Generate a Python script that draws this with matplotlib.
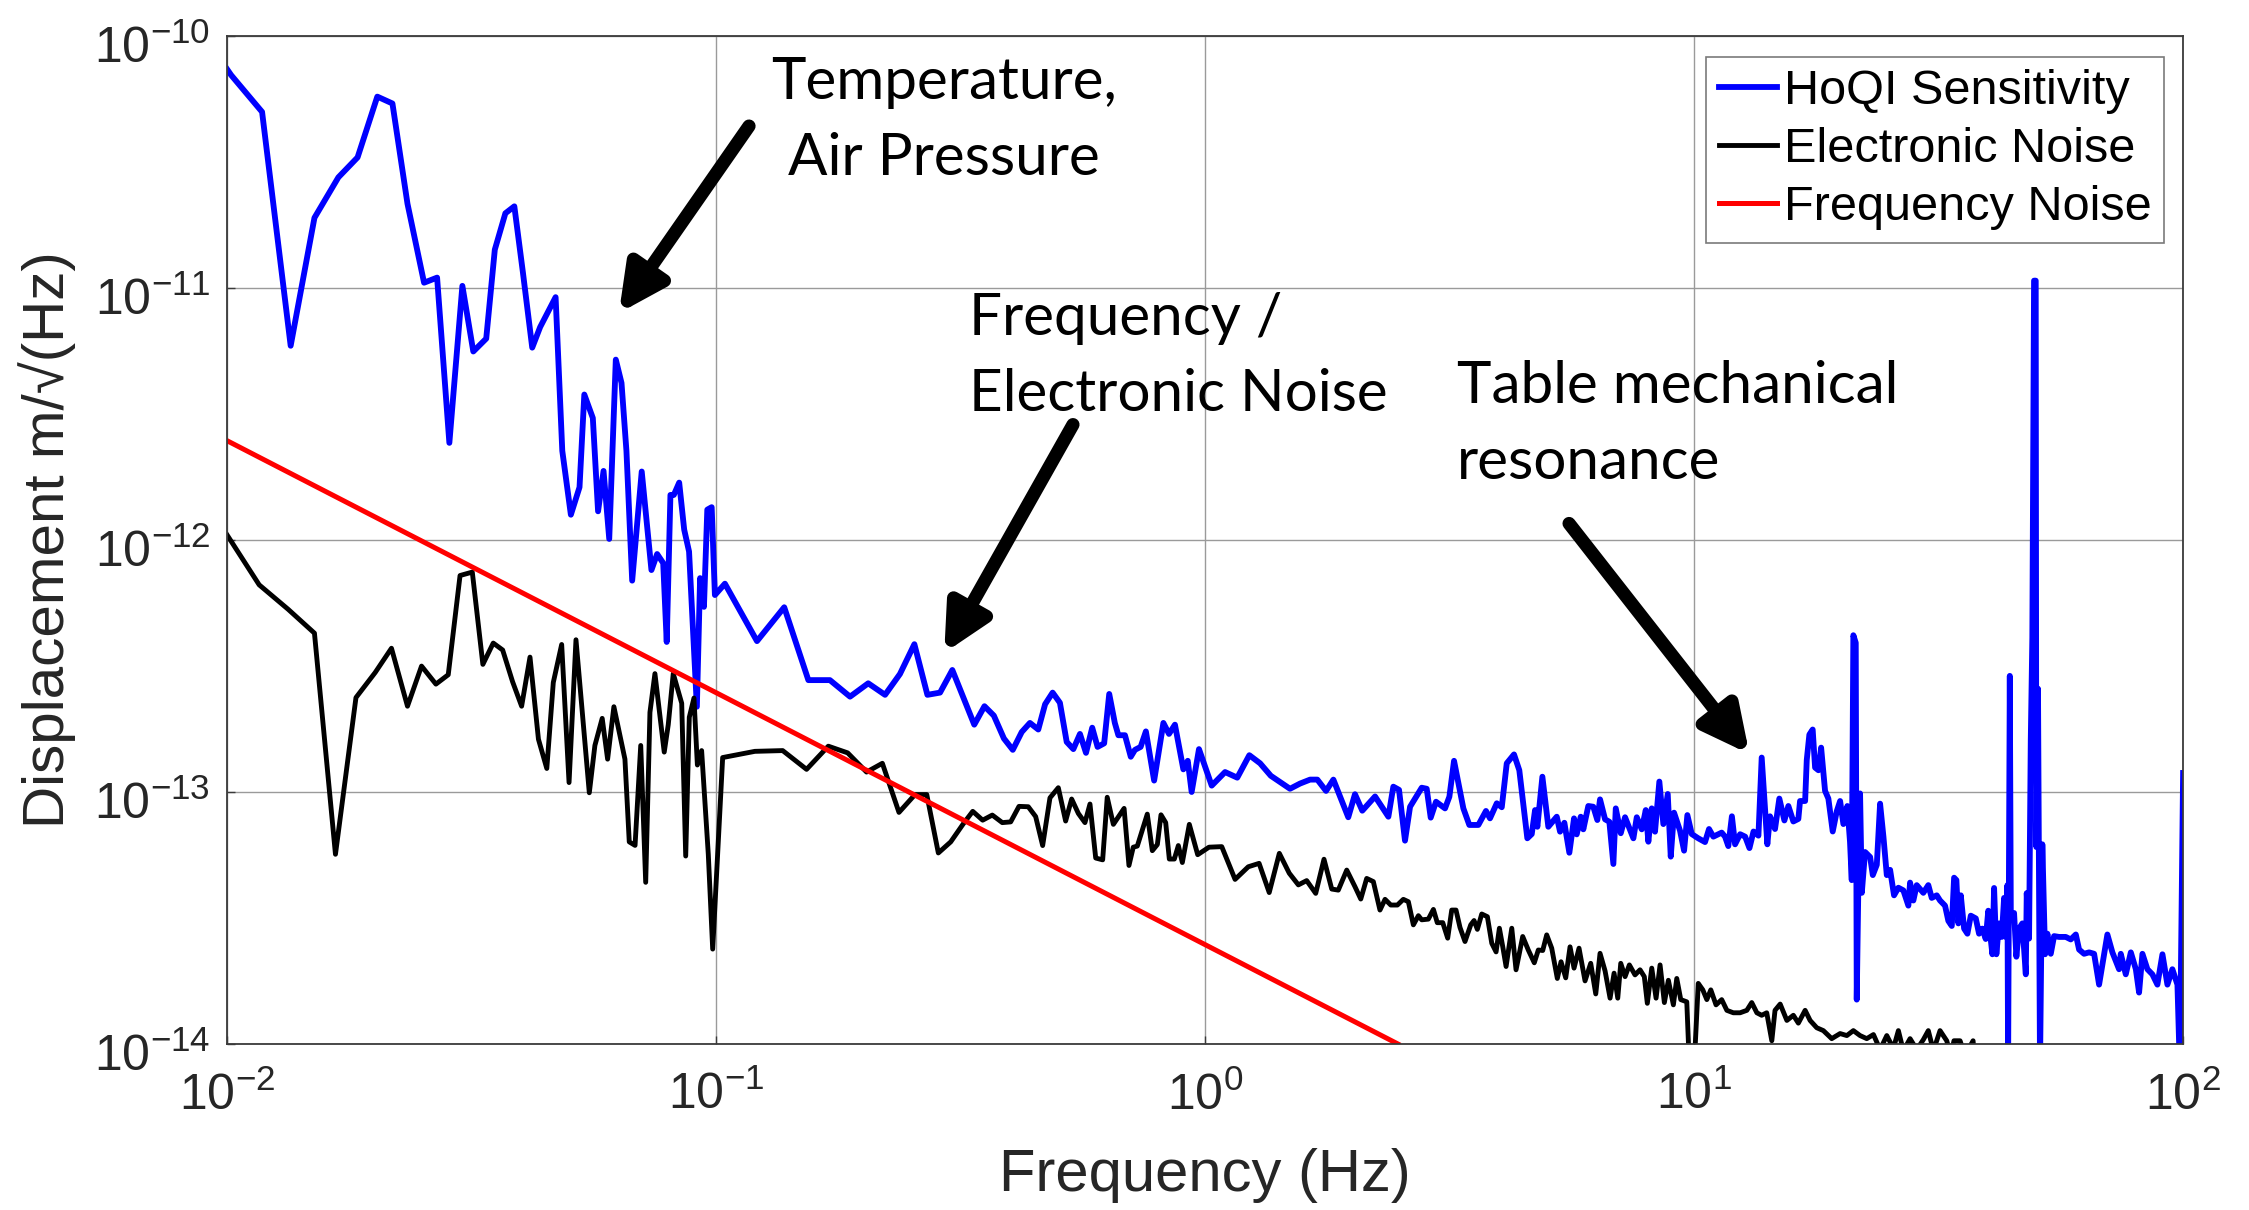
import matplotlib
matplotlib.use("Agg")
import matplotlib.pyplot as plt
import matplotlib.transforms as mtransforms
from matplotlib.ticker import FixedLocator, NullLocator, LogFormatterSciNotation

plt.rcParams['font.family'] = ['Liberation Sans', 'DejaVu Sans']
plt.rcParams['axes.unicode_minus'] = False
plt.rcParams['mathtext.fontset'] = 'custom'
plt.rcParams['mathtext.rm'] = 'Liberation Sans'
plt.rcParams['mathtext.it'] = 'Liberation Sans:italic'
plt.rcParams['mathtext.bf'] = 'Liberation Sans:bold'

# ---------------- data ----------------
blue_freq = [
    0.0100, 0.0102, 0.0118, 0.0135, 0.0151, 0.0169, 0.0185, 0.0203, 0.0218, 0.0234,
    0.0253, 0.0269, 0.0285, 0.0303, 0.0319, 0.0339, 0.0353, 0.0371, 0.0387, 0.0403,
    0.0421, 0.0437, 0.0470, 0.0485, 0.0505, 0.0526, 0.0538, 0.0560, 0.0574, 0.0589,
    0.0605, 0.0624, 0.0641, 0.0656, 0.0674, 0.0705, 0.0738, 0.0758, 0.0780, 0.0793,
    0.0807, 0.0820, 0.0841, 0.0861, 0.0881, 0.0914, 0.0928, 0.0945, 0.0960, 0.0980,
    0.0995,
    0.1043, 0.1213, 0.1379, 0.1545, 0.171, 0.188, 0.2048, 0.2217, 0.2378, 0.2545,
    0.2706, 0.2872, 0.3043, 0.3374, 0.354, 0.370, 0.388, 0.4045, 0.4219, 0.4385,
    0.4561, 0.471, 0.488, 0.505, 0.5214, 0.538, 0.555, 0.571, 0.588, 0.603,
    0.622, 0.637, 0.654, 0.665, 0.686, 0.705, 0.719, 0.7385, 0.757, 0.787,
    0.822, 0.844, 0.868, 0.903, 0.922, 0.939, 0.972,
    1.032, 1.099, 1.164, 1.232, 1.296, 1.363, 1.492, 1.564, 1.640, 1.697,
    1.768, 1.830, 1.963, 2.026, 2.097, 2.227, 2.371, 2.427, 2.493, 2.564,
    2.626, 2.774, 2.840, 2.894, 2.967, 3.096, 3.160, 3.230, 3.375, 3.471,
    3.622, 3.754, 3.826, 3.950, 4.044, 4.140, 4.284, 4.392, 4.561, 4.657,
    4.730, 4.782, 4.896, 5.035, 5.239, 5.321, 5.430, 5.559, 5.683, 5.755,
    5.865, 5.937, 6.078, 6.223, 6.342, 6.423, 6.577, 6.711, 6.839, 6.917,
    7.081, 7.226, 7.515, 7.636, 7.817, 7.966, 8.064, 8.194, 8.321, 8.492,
    8.654, 8.835, 8.960, 9.100, 9.361, 9.541, 9.690, 9.892,
    10.20, 10.53, 10.73, 10.95, 11.39, 11.57, 11.75, 11.95, 12.13, 12.42,
    12.72, 12.98, 13.23, 13.54, 13.75, 14.12, 14.30, 14.64, 14.94, 15.30,
    15.59, 15.96, 16.34, 16.47, 16.87, 17.00, 17.21, 17.48, 17.68, 17.96,
    18.19, 18.53, 18.82, 19.21, 19.58, 19.89, 20.20, 20.58, 20.84, 21.01,
    21.17, 21.41, 21.51, 21.68, 21.85, 22.03, 22.37, 22.91, 23.20, 23.64,
    24.01, 24.39, 24.78, 25.17, 25.64, 26.17, 26.79, 27.43, 27.65, 28.08,
    28.53, 29.43, 30.13, 30.62, 31.35, 31.84, 32.60, 33.11,
    33.65, 34.02, 34.39, 34.71, 35.11, 35.66, 36.22, 36.80, 37.68, 38.26,
    38.86, 39.48, 39.96, 40.42, 40.74, 41.07, 41.51, 42.04, 42.58, 43.05,
    43.40, 43.73, 43.87, 44.22, 44.43, 45.12, 45.61, 46.19, 46.91, 47.68,
    47.89, 48.42, 48.81, 49.17, 49.57, 49.96, 50.10, 50.50, 50.98, 51.54,
    52.21, 52.78, 53.63, 54.47, 55.76, 57.55, 58.92, 60.34, 61.28, 62.73,
    64.23, 65.77, 67.33, 68.93, 70.01, 71.68, 73.97, 74.57, 76.34, 78.18,
    80.05, 81.28, 82.57, 84.53, 86.53, 88.60, 90.73, 92.88, 95.08, 97.37,
    98.47, 100.0,
]
blue_disp = [
    7.4e-11, 7.0e-11, 5.0e-11, 5.9e-12, 1.9e-11, 2.75e-11, 3.3e-11, 5.75e-11, 5.4e-11, 2.16e-11,
    1.05e-11, 1.10e-11, 2.43e-12, 1.02e-11, 5.6e-12, 6.3e-12, 1.42e-11, 1.98e-11, 2.11e-11, 1.15e-11,
    5.8e-12, 7.0e-12, 9.2e-12, 2.26e-12, 1.26e-12, 1.62e-12, 3.78e-12, 3.05e-12, 1.30e-12, 1.88e-12,
    1.01e-12, 5.2e-12, 4.2e-12, 2.26e-12, 6.9e-13, 1.87e-12, 7.6e-13, 8.8e-13, 8.1e-13, 3.94e-13,
    1.51e-12, 1.51e-12, 1.69e-12, 1.10e-12, 9.0e-13, 2.18e-13, 7.06e-13, 5.43e-13, 1.32e-12, 1.35e-12,
    6.05e-13,
    6.71e-13, 3.97e-13, 5.41e-13, 2.78e-13, 2.78e-13, 2.39e-13, 2.70e-13, 2.43e-13, 2.94e-13, 3.86e-13,
    2.43e-13, 2.48e-13, 3.05e-13, 1.85e-13, 2.19e-13, 2.01e-13, 1.63e-13, 1.47e-13, 1.73e-13, 1.88e-13,
    1.77e-13, 2.23e-13, 2.48e-13, 2.26e-13, 1.58e-13, 1.48e-13, 1.70e-13, 1.43e-13, 1.80e-13, 1.51e-13,
    1.56e-13, 2.45e-13, 1.88e-13, 1.68e-13, 1.68e-13, 1.38e-13, 1.47e-13, 1.51e-13, 1.74e-13, 1.11e-13,
    1.88e-13, 1.70e-13, 1.85e-13, 1.23e-13, 1.33e-13, 1.00e-13, 1.48e-13,
    1.06e-13, 1.20e-13, 1.14e-13, 1.40e-13, 1.30e-13, 1.16e-13, 1.03e-13, 1.08e-13, 1.12e-13, 1.12e-13,
    1.01e-13, 1.12e-13, 7.94e-14, 9.8e-14, 8.43e-14, 9.6e-14, 7.98e-14, 1.05e-13, 1.02e-13, 6.41e-14,
    8.74e-14, 1.04e-13, 1.03e-13, 7.91e-14, 9.15e-14, 8.61e-14, 9.58e-14, 1.33e-13, 8.61e-14, 7.4e-14,
    7.4e-14, 8.41e-14, 7.86e-14, 9.02e-14, 8.7e-14, 1.30e-13, 1.41e-13, 1.22e-13, 6.55e-14, 6.81e-14,
    8.48e-14, 7.28e-14, 1.15e-13, 7.28e-14, 7.98e-14, 6.96e-14, 7.55e-14, 5.74e-14, 7.86e-14, 6.79e-14,
    7.98e-14, 7.11e-14, 8.80e-14, 8.74e-14, 7.74e-14, 9.35e-14, 7.79e-14, 7.62e-14, 5.18e-14, 8.61e-14,
    6.86e-14, 7.94e-14, 6.55e-14, 7.94e-14, 7.11e-14, 8.48e-14, 6.35e-14, 8.61e-14, 6.96e-14, 1.10e-13,
    7.46e-14, 9.82e-14, 5.54e-14, 8.28e-14, 7.02e-14, 5.85e-14, 8.1e-14, 6.81e-14,
    6.55e-14, 6.33e-14, 7.13e-14, 6.65e-14, 6.9e-14, 6.65e-14, 6.1e-14, 8.01e-14, 6.2e-14, 6.8e-14,
    6.65e-14, 5.99e-14, 6.97e-14, 6.71e-14, 1.37e-13, 6.2e-14, 8.01e-14, 7.13e-14, 9.42e-14, 7.71e-14,
    8.8e-14, 7.64e-14, 7.82e-14, 9.21e-14, 9.21e-14, 1.34e-13, 1.69e-13, 1.77e-13, 1.25e-13, 1.22e-13,
    1.50e-13, 1.01e-13, 9.42e-14, 6.97e-14, 8.39e-14, 9.21e-14, 7.46e-14, 8.8e-14, 6.34e-14, 4.47e-14,
    4.19e-13, 3.91e-13, 1.50e-14, 4.37e-14, 9.87e-14, 3.98e-14, 5.78e-14, 5.52e-14, 4.68e-14, 5.14e-14,
    8.99e-14, 6.65e-14, 4.68e-14, 4.91e-14, 3.89e-14, 4.17e-14, 4.07e-14, 3.54e-14, 4.37e-14, 3.71e-14,
    4.27e-14, 3.98e-14, 4.27e-14, 3.80e-14, 3.89e-14, 3.71e-14, 3.54e-14, 3.08e-14,
    2.94e-14, 4.57e-14, 4.47e-14, 3.01e-14, 3.89e-14, 2.87e-14, 2.74e-14, 3.23e-14, 3.15e-14, 2.74e-14,
    2.87e-14, 2.61e-14, 3.38e-14, 2.61e-14, 2.27e-14, 4.16e-14, 2.27e-14, 3.01e-14, 2.66e-14, 3.80e-14,
    2.66e-14, 4.27e-14, 8.0e-15, 2.89e-13, 3.31e-14, 3.31e-14, 2.22e-14, 2.87e-14, 3.01e-14, 1.89e-14,
    3.97e-14, 2.62e-14, 1.61e-13, 4.09e-13, 1.07e-11, 1.07e-11, 6.05e-14, 2.57e-13, 8.0e-15, 6.2e-14,
    2.27e-14, 2.74e-14, 2.28e-14, 2.68e-14, 2.66e-14, 2.66e-14, 2.60e-14, 2.72e-14, 2.37e-14, 2.28e-14,
    2.31e-14, 2.28e-14, 1.72e-14, 2.27e-14, 2.72e-14, 2.31e-14, 1.98e-14, 2.28e-14, 1.89e-14, 2.31e-14,
    1.98e-14, 1.60e-14, 2.28e-14, 1.98e-14, 1.89e-14, 1.72e-14, 2.27e-14, 1.72e-14, 1.98e-14, 1.72e-14,
    8.0e-15, 1.19e-13,
]

black_freq = [
    0.0100, 0.01164, 0.01334, 0.0151, 0.01667, 0.01836, 0.0201, 0.0217, 0.0234, 0.0250,
    0.02675, 0.02835, 0.02997, 0.03175, 0.03337, 0.03504, 0.03663, 0.03838, 0.04005, 0.04166,
    0.04335, 0.04509, 0.04649, 0.04836, 0.05007, 0.05173, 0.05508, 0.05655, 0.05853, 0.06004,
    0.06184, 0.06514, 0.06648, 0.06832, 0.07017, 0.07183, 0.07328, 0.07502, 0.07838, 0.07988,
    0.08178, 0.08510, 0.08672, 0.0882, 0.09016, 0.09162, 0.09347, 0.09645, 0.09847,
    0.1032, 0.1201, 0.1369, 0.1532, 0.1697, 0.1859, 0.2032, 0.2189, 0.2367, 0.2553,
    0.2698, 0.2849, 0.302, 0.3206, 0.335, 0.351, 0.3673, 0.385, 0.4005, 0.4165,
    0.4351, 0.4505, 0.4656, 0.4819, 0.5012, 0.5188, 0.5337, 0.5508, 0.5682, 0.5818,
    0.5977, 0.6176, 0.631, 0.6495, 0.6832, 0.699, 0.7133, 0.727, 0.762, 0.7803,
    0.7990, 0.8128, 0.831, 0.8453, 0.8655, 0.882, 0.8987, 0.9288, 0.9661, 1.019,
    1.082, 1.152, 1.226, 1.290, 1.353, 1.419, 1.487, 1.552, 1.614, 1.684,
    1.751, 1.816, 1.873, 1.949, 2.026, 2.082, 2.141, 2.209, 2.279, 2.334,
    2.398, 2.474, 2.544, 2.605, 2.667, 2.731, 2.774, 2.862, 2.931, 2.985,
    3.063, 3.135, 3.195, 3.260, 3.322, 3.401, 3.494, 3.549, 3.605, 3.680,
    3.779, 3.858, 3.937, 3.999, 4.063, 4.127, 4.239, 4.325, 4.463, 4.582,
    4.713, 4.803, 4.904, 4.997, 5.116, 5.253, 5.346, 5.465, 5.577, 5.683,
    5.818, 5.985, 6.147, 6.295, 6.423, 6.577, 6.734, 6.862, 6.982, 7.081,
    7.226, 7.374, 7.573, 7.754, 7.912, 8.025, 8.194, 8.362, 8.521, 8.695,
    8.861, 9.072, 9.218, 9.393, 9.663, 9.813, 9.968, 10.20,
    10.42, 10.62, 10.82, 11.09, 11.39, 11.67, 12.03, 12.42, 12.82, 13.12,
    13.44, 13.75, 14.08, 14.42, 14.64, 15.00, 15.48, 15.96, 16.34, 16.87,
    17.27, 17.82, 18.38, 19.12, 19.89, 20.53, 21.17, 21.85, 22.55, 23.27,
    24.01, 24.78, 25.56, 26.17, 26.79, 27.65, 28.53, 29.43, 30.13, 30.86,
    31.84, 32.86, 33.50, 34.00, 34.99, 35.80, 37.20, 37.60,
]
black_disp = [
    1.05e-12, 6.64e-13, 5.31e-13, 4.27e-13, 5.66e-14, 2.37e-13, 2.98e-13, 3.72e-13, 2.19e-13, 3.16e-13,
    2.68e-13, 2.92e-13, 7.23e-13, 7.46e-13, 3.21e-13, 3.90e-13, 3.66e-13, 2.74e-13, 2.19e-13, 3.43e-13,
    1.62e-13, 1.24e-13, 2.72e-13, 3.85e-13, 1.09e-13, 4.02e-13, 9.93e-14, 1.53e-13, 1.96e-13, 1.35e-13,
    2.18e-13, 1.35e-13, 6.34e-14, 6.14e-14, 1.53e-13, 4.38e-14, 2.07e-13, 2.95e-13, 1.44e-13, 1.85e-13,
    2.95e-13, 2.25e-13, 5.57e-14, 1.98e-13, 2.36e-13, 1.28e-13, 1.46e-13, 5.66e-14, 2.38e-14,
    1.37e-13, 1.45e-13, 1.46e-13, 1.23e-13, 1.52e-13, 1.43e-13, 1.20e-13, 1.30e-13, 8.30e-14, 9.77e-14,
    9.77e-14, 5.73e-14, 6.34e-14, 7.49e-14, 8.38e-14, 7.73e-14, 8.10e-14, 7.56e-14, 7.61e-14, 8.77e-14,
    8.74e-14, 7.99e-14, 6.13e-14, 9.48e-14, 1.04e-13, 7.67e-14, 9.38e-14, 8.22e-14, 7.56e-14, 8.96e-14,
    5.47e-14, 5.38e-14, 9.53e-14, 7.44e-14, 8.61e-14, 5.11e-14, 6.04e-14, 6.10e-14, 8.17e-14, 5.85e-14,
    6.19e-14, 8.12e-14, 7.56e-14, 5.42e-14, 5.42e-14, 6.13e-14, 5.25e-14, 7.44e-14, 5.64e-14, 6.04e-14,
    6.07e-14, 4.50e-14, 5.05e-14, 5.21e-14, 3.99e-14, 5.71e-14, 4.76e-14, 4.28e-14, 4.45e-14, 3.96e-14,
    5.41e-14, 4.12e-14, 4.08e-14, 4.90e-14, 4.21e-14, 3.76e-14, 4.54e-14, 4.41e-14, 3.40e-14, 3.75e-14,
    3.56e-14, 3.56e-14, 3.75e-14, 3.67e-14, 2.97e-14, 3.23e-14, 3.11e-14, 3.13e-14, 3.42e-14, 3.03e-14,
    3.03e-14, 2.63e-14, 3.40e-14, 3.40e-14, 2.90e-14, 2.55e-14, 2.97e-14, 3.09e-14, 2.85e-14, 3.28e-14,
    3.20e-14, 2.51e-14, 2.32e-14, 2.88e-14, 2.43e-14, 2.03e-14, 2.88e-14, 1.97e-14, 2.67e-14, 2.36e-14,
    2.10e-14, 2.36e-14, 2.35e-14, 2.71e-14, 2.40e-14, 1.82e-14, 2.12e-14, 1.83e-14, 2.43e-14, 2.00e-14,
    2.40e-14, 1.78e-14, 2.09e-14, 1.58e-14, 2.29e-14, 1.95e-14, 1.52e-14, 1.91e-14, 1.52e-14, 2.09e-14,
    1.85e-14, 2.06e-14, 1.88e-14, 1.97e-14, 1.85e-14, 1.45e-14, 2.00e-14, 1.52e-14, 2.06e-14, 1.46e-14,
    1.79e-14, 1.43e-14, 1.82e-14, 1.50e-14, 1.47e-14, 7.0e-15, 7.0e-15, 1.74e-14,
    1.64e-14, 1.50e-14, 1.64e-14, 1.43e-14, 1.50e-14, 1.36e-14, 1.33e-14, 1.33e-14, 1.36e-14, 1.46e-14,
    1.33e-14, 1.30e-14, 1.33e-14, 1.03e-14, 1.36e-14, 1.44e-14, 1.24e-14, 1.30e-14, 1.21e-14, 1.36e-14,
    1.24e-14, 1.16e-14, 1.13e-14, 1.05e-14, 1.10e-14, 1.08e-14, 1.13e-14, 1.08e-14, 1.05e-14, 1.09e-14,
    9.5e-15, 1.08e-14, 9.6e-15, 1.13e-14, 9.4e-15, 1.05e-14, 9.5e-15, 1.04e-14, 1.13e-14, 9.4e-15,
    1.13e-14, 1.03e-14, 9.0e-15, 1.03e-14, 1.03e-14, 9.0e-15, 1.03e-14, 8.0e-15,
]

red_freq = [0.01, 2.48]
red_disp = [2.48e-12, 1.0e-14]

x_ticks = [1e-2, 1e-1, 1e0, 1e1, 1e2]
y_ticks = [1e-14, 1e-13, 1e-12, 1e-11, 1e-10]
series_labels = ["HoQI Sensitivity", "Electronic Noise", "Frequency Noise"]
x_label = "Frequency (Hz)"
y_label = "Displacement m/\u221a(Hz)"
annot_texts = ["Temperature,\nAir Pressure", "Frequency /\nElectronic Noise",
               "Table mechanical\nresonance"]

# ---------------- figure ----------------
fig = plt.figure(figsize=(22.49, 12.10), dpi=100)
ax = fig.add_axes([0.1009, 0.1372, 0.8698, 0.8330])

ax.plot(blue_freq, blue_disp, color='#0000ff', lw=4.2, label=series_labels[0])
ax.plot(black_freq, black_disp, color='#000000', lw=3.5, label=series_labels[1])
ax.plot(red_freq, red_disp, color='#ff0000', lw=3.6, label=series_labels[2])

ax.set_xscale('log')
ax.set_yscale('log')
ax.set_xlim(0.01, 100)
ax.set_ylim(1e-14, 1e-10)
ax.xaxis.set_major_locator(FixedLocator(x_ticks))
ax.yaxis.set_major_locator(FixedLocator(y_ticks))
ax.xaxis.set_major_formatter(LogFormatterSciNotation())
ax.yaxis.set_major_formatter(LogFormatterSciNotation())
ax.xaxis.set_minor_locator(NullLocator())
ax.yaxis.set_minor_locator(NullLocator())
ax.grid(True, which='major', color='#9a9a9a', lw=1.0)
ax.set_axisbelow(True)
for s in ax.spines.values():
    s.set_color('#3a3a3a')
    s.set_linewidth(1.3)
ax.tick_params(axis='both', which='major', direction='in', length=6, width=1,
               color='#3a3a3a', labelcolor='#262626', labelsize=36)
ax.tick_params(axis='x', pad=20)
ax.tick_params(axis='y', pad=12)

# shift the y tick labels slightly downward, as in the reference
y_shift = mtransforms.ScaledTranslation(0, -8 / 100, fig.dpi_scale_trans)
for t in ax.yaxis.get_major_ticks():
    t.label1.set_transform(t.label1.get_transform() + y_shift)

ax.set_xlabel(x_label, fontsize=43, color='#262626')
ax.set_ylabel(y_label, fontsize=42, color='#262626')
ax.xaxis.set_label_coords(0.5, -0.1032)
ax.yaxis.set_label_coords(-0.077, 0.5)

leg = ax.legend(loc='upper right', bbox_to_anchor=(0.9903, 0.9792), borderaxespad=0,
                fontsize=35, handlelength=1.2, handletextpad=0.15, labelspacing=0.27,
                borderpad=0.25, fancybox=False, framealpha=1, edgecolor='#7a7a7a')
leg.get_frame().set_linewidth(1.2)

# annotations (axes-fraction positions)
ax.text(0.3666, 0.9800, annot_texts[0], transform=ax.transAxes, ha='center', va='top',
        fontsize=42, family='Lato', linespacing=1.53, color='black')
ax.text(0.3796, 0.7460, annot_texts[1], transform=ax.transAxes, ha='left', va='top',
        fontsize=42, family='Lato', linespacing=1.53, color='black')
ax.text(0.6288, 0.6785, annot_texts[2], transform=ax.transAxes, ha='left', va='top',
        fontsize=42, family='Lato', linespacing=1.53, color='black')

arrow_tails = [(0.2669, 0.9107), (0.4325, 0.6145), (0.6861, 0.5164)]
arrow_tips = [(0.2004, 0.7252), (0.3667, 0.3880), (0.7783, 0.2877)]
for tail, tip in zip(arrow_tails, arrow_tips):
    ax.annotate('', xy=tip, xytext=tail, xycoords='axes fraction', textcoords='axes fraction',
                arrowprops=dict(arrowstyle='-|>,head_length=0.4,head_width=0.2',
                                lw=9.5, color='black', mutation_scale=68,
                                shrinkA=0, shrinkB=0))

fig.savefig('out.png', dpi=100)
